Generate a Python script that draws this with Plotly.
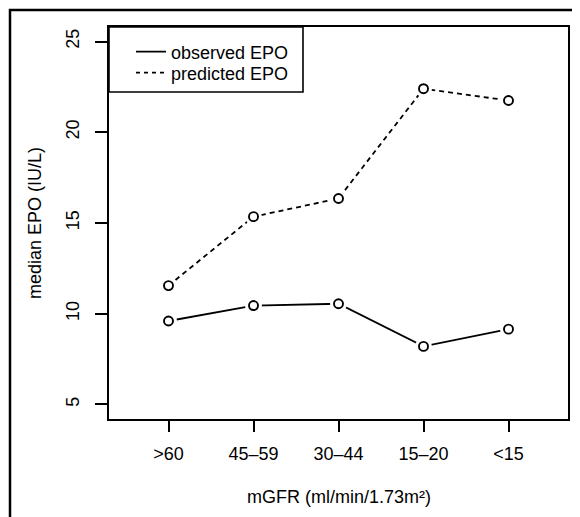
import plotly.graph_objects as go

categories = [">60", "45\u201359", "30\u201344", "15\u201320", "<15"]
observed_epo = [9.6, 10.45, 10.55, 8.2, 9.15]
predicted_epo = [11.55, 15.35, 16.35, 22.4, 21.75]
y_ticks = [5, 10, 15, 20, 25]

xpos = list(range(1, len(categories) + 1))
FONT = "Liberation Sans, Arial, Helvetica, sans-serif"

# The page body has an 8px default margin, so the figure sits 8px in from the
# window corner. Geometry below is given in window pixels and shifted by OFF.
OFF = 8
W, H = 580, 517
PL, PR, PT, PB = 109, 568, 27, 419          # plot area in window pixels
PW, PH = PR - PL, PB - PT


def px_x(p):
    return (p - PL) / PW


def px_y(p):
    return (PB - p) / PH


fig = go.Figure()
for vals, dash in [(observed_epo, "solid"), (predicted_epo, "5px,4px")]:
    fig.add_trace(go.Scatter(x=xpos, y=vals, mode="lines", showlegend=False, hoverinfo="skip",
                             line=dict(color="black", width=1.8, dash=dash)))
    # white halo gives the gap between line and point (R type="b")
    fig.add_trace(go.Scatter(x=xpos, y=vals, mode="markers", showlegend=False, hoverinfo="skip",
                             marker=dict(symbol="circle", size=17, color="white", line=dict(width=0))))
    fig.add_trace(go.Scatter(x=xpos, y=vals, mode="markers", showlegend=False,
                             marker=dict(symbol="circle-open", size=9, color="black", line=dict(width=1.9))))

# legend entries (lines only, as in the reference)
fig.add_trace(go.Scatter(x=[None], y=[None], mode="lines", name="observed EPO", legend="legend",
                         line=dict(color="black", width=1.8)))
fig.add_trace(go.Scatter(x=[None], y=[None], mode="lines", name="predicted EPO", legend="legend2",
                         line=dict(color="black", width=1.8, dash="4px,4px")))

leg_common = dict(xanchor="left", yanchor="middle", bgcolor="rgba(0,0,0,0)", borderwidth=0,
                  font=dict(size=18, family=FONT, color="black"), itemwidth=30)

fig.update_layout(
    width=W, height=H,
    margin=dict(l=PL - OFF, r=W + OFF - PR, t=PT - OFF, b=H + OFF - PB, autoexpand=False),
    paper_bgcolor="white", plot_bgcolor="white",
    font=dict(family=FONT, size=18, color="black"),
    showlegend=True,
    legend=dict(x=px_x(131), y=px_y(52), **leg_common),
    legend2=dict(x=px_x(131), y=px_y(73), **leg_common),
    xaxis=dict(range=[0.3, 5.7], tickmode="array", tickvals=xpos, ticktext=categories,
               showgrid=False, zeroline=False, showline=True, linecolor="black", linewidth=1.8,
               mirror=True, ticks="outside", ticklen=11, tickwidth=1.6, tickcolor="black",
               ticklabelstandoff=6, automargin=False),
    yaxis=dict(range=[4.2, 25.8], tickmode="array", tickvals=y_ticks,
               showgrid=False, zeroline=False, showline=True, linecolor="black", linewidth=1.8,
               mirror=True, ticks="outside", ticklen=12, tickwidth=1.6, tickcolor="black",
               tickangle=-90, ticklabelstandoff=9, automargin=False),
    shapes=[
        # legend box
        dict(type="rect", xref="paper", yref="paper", x0=0, x1=px_x(303), y0=1, y1=px_y(92),
             line=dict(color="black", width=1.6)),
        # outer figure frame (right/bottom edges fall outside the picture)
        dict(type="rect", xref="paper", yref="paper", x0=px_x(10), x1=px_x(640),
             y0=px_y(580), y1=px_y(10), line=dict(color="black", width=2.5)),
    ],
    annotations=[
        dict(text="mGFR (ml/min/1.73m\u00b2)", xref="paper", yref="paper", x=0.5, y=px_y(497),
             showarrow=False, xanchor="center", yanchor="middle", font=dict(size=18)),
        dict(text="median EPO (IU/L)", xref="paper", yref="paper", x=px_x(35), y=0.5,
             showarrow=False, textangle=-90, xanchor="center", yanchor="middle", font=dict(size=18)),
    ],
)

fig.write_html("out.html", config={"displayModeBar": False})
